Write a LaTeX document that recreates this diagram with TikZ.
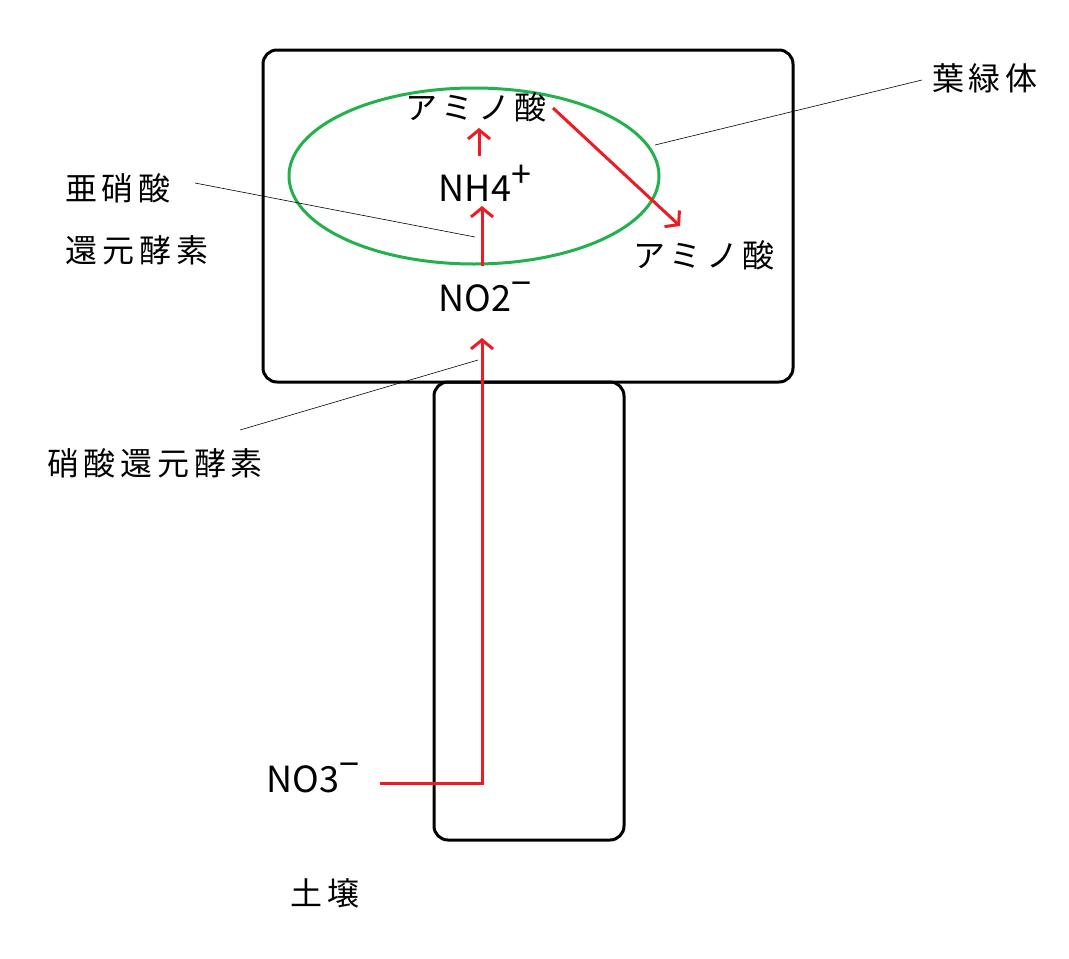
\documentclass[tikz,border=0pt]{standalone}
\usepackage{fontspec}
\setmainfont{Noto Sans CJK JP}
\newfontfamily\jpwide[LetterSpace=15]{Noto Sans CJK JP}
\usetikzlibrary{arrows.meta}
\begin{document}
\begin{tikzpicture}[x=1pt,y=-1pt,
  box/.style={draw=black,line width=3pt,rounded corners=14pt},
  redarr/.style={draw={rgb,255:red,237;green,28;blue,36},line width=3pt,-{Straight Barb[length=9pt,width=22pt,line width=3pt]}},
  thin/.style={draw=black,line width=0.6pt},
  lbl/.style={font=\jpwide\fontsize{32}{36}\selectfont,inner sep=1pt},
  chem/.style={font=\fontsize{36}{40}\selectfont,inner sep=1pt}]
\useasboundingbox (0,0) rectangle (1069,959);
\draw[box] (263,50) rectangle (793,382);
\draw[box] (434,382) rectangle (624,840);
\draw[draw={rgb,255:red,34;green,177;blue,76},line width=3pt] (474,176) ellipse [x radius=185,y radius=88];
\node[lbl] (am1) at (476,107) {アミノ酸};
\node[chem] (nh4) at (485,183) {NH4\raisebox{0.4em}{+}};
\node[chem] (no2) at (485,297) {NO2\raisebox{0.4em}{\textminus}};
\node[lbl] (am2) at (704,255) {アミノ酸};
\node[chem] (no3) at (313,778) {NO3\raisebox{0.4em}{\textminus}};
\node[lbl] (soil) at (325,893) {土壌};
\node[lbl] (chl) at (985,78) {葉緑体};
\node[lbl] (ni1) at (118,188) {亜硝酸};
\node[lbl] (ni2) at (137,250) {還元酵素};
\node[lbl] (nr) at (155,463) {硝酸還元酵素};
\coordinate (c1) at (655,145);
\coordinate (c2) at (475,237);
\coordinate (c3) at (478,360);
\coordinate (s1) at (380,783);
\coordinate (s2) at (482,783);
\coordinate (s3) at (482,338);
\draw[thin] (922,80) -- (c1);
\draw[thin] (195,183) -- (c2);
\draw[thin] (240,430) -- (c3);
\draw[redarr] (s1) -- (s2) -- (s3);
\draw[redarr] (482,266) -- (482,206);
\draw[redarr] (479,156) -- (479,128);
\draw[redarr] (553,108) -- (680,226);
\end{tikzpicture}
\end{document}
